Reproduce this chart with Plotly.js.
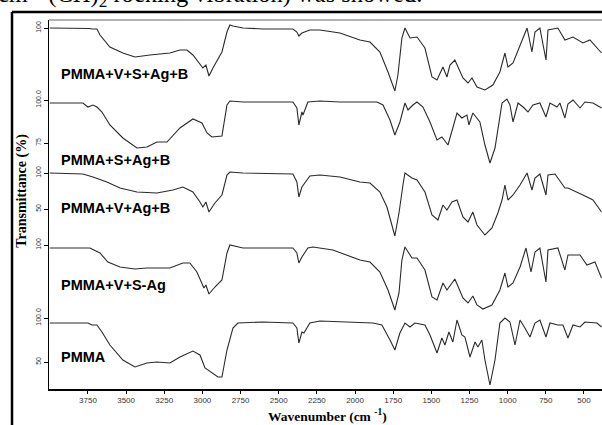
<!DOCTYPE html>
<html>
<head>
<meta charset="utf-8">
<script src="https://cdn.plot.ly/plotly-3.0.1.min.js"></script>
<style>
html,body{margin:0;padding:0;background:#fff;}
#chart{width:602px;height:425px;}
</style>
</head>
<body>
<div id="chart"></div>
<script>
// Wavenumbers (cm-1) and stacked, offset transmittance values (plot units) for each spectrum
const names = ["PMMA+V+S+Ag+B", "PMMA+S+Ag+B", "PMMA+V+Ag+B", "PMMA+V+S-Ag", "PMMA"];

const wn1 = [4000,3783,3737,3724,3691,3671,3606,3521,3442,3344,3213,3147,3101,3062,3016,2997,2977,2957,2931,2872,2839,2820,2800,2734,2603,2407,2381,2368,2348,2296,2230,2099,1968,1902,1837,1784,1739,1719,1693,1673,1640,1594,1542,1496,1463,1424,1398,1378,1346,1293,1260,1234,1201,1149,1097,1051,1018,998,965,919,873,841,821,789,749,736,671,625,572,507,461,385];
const t1  = [361,361,360.5,360,360,354,342,336,332,334,336,339,339,334,324,321,324,313,321,337,357,364,363,361,360,360,357,353,356,359,359,356,349,347,337,317,298,314,351,361,351,352,341,312,309,322,312,324,329,311,306,311,302,299,304,317,336,322,326,344,361,337,357,361,329,359,361,349,352,346,349,336];

const wn2 = [4000,3783,3750,3717,3691,3658,3606,3521,3429,3363,3298,3232,3147,3062,3003,2970,2938,2872,2839,2820,2734,2407,2381,2368,2348,2341,2309,2230,2099,1856,1817,1771,1739,1706,1673,1653,1621,1594,1555,1509,1463,1431,1391,1359,1332,1300,1267,1254,1228,1182,1149,1116,1083,1037,1005,985,965,932,899,867,834,789,749,723,677,658,625,605,572,526,494,441,385];
const t2  = [286,286,282,284,282,277,264,251,241,242,247,247,261,270,266,256,252,253,284,288,287,287,281,264,277,274,287,288,287,287,284,269,254,267,286,279,284,287,282,267,249,252,244,262,276,271,274,264,276,267,244,226,241,286,290,284,267,286,282,277,284,286,272,286,282,286,271,285,289,281,287,286,281];

const wn3 = [4000,3783,3717,3626,3540,3429,3298,3193,3128,3062,3016,2997,2977,2957,2918,2872,2839,2820,2734,2407,2381,2368,2348,2296,2230,2099,1968,1902,1837,1791,1739,1712,1686,1673,1627,1594,1542,1496,1457,1424,1398,1365,1332,1293,1260,1228,1201,1149,1103,1064,1037,1018,998,965,919,873,841,821,789,749,736,690,625,605,507,441,385];
const t3  = [216,215,212,207,201,197,196,199,202,197,187,182,187,177,186,194,214,217,216,215,207,192,202,213,214,212,207,206,197,182,153,176,204,216,211,209,197,174,169,184,179,187,189,172,167,177,164,154,161,176,189,204,189,194,204,216,199,211,215,194,214,215,201,201,194,189,177];

const wn4 = [4000,3737,3671,3619,3540,3442,3363,3213,3128,3082,3036,3003,2990,2977,2957,2918,2872,2839,2820,2734,2407,2381,2368,2348,2309,2276,2145,1968,1902,1837,1784,1739,1712,1693,1673,1627,1594,1542,1496,1463,1424,1398,1365,1346,1293,1260,1228,1201,1162,1103,1051,1018,998,965,919,880,847,821,789,749,736,671,625,605,526,481,428,385];
const t4  = [141,141,136,127,122,120,121,121,126,126,117,106,101,104,95,102,109,136,144,141,141,136,126,132,141,142,139,129,127,117,99,79,96,129,142,131,131,119,92,89,106,99,106,110,91,86,93,84,80,84,99,116,102,106,122,141,117,137,141,107,139,141,119,134,134,124,127,111];

const wn5 = [4000,3750,3724,3691,3658,3606,3521,3442,3363,3298,3213,3147,3062,3016,2983,2938,2898,2872,2839,2800,2767,2603,2407,2381,2368,2348,2335,2296,2230,1883,1824,1771,1739,1706,1673,1640,1608,1542,1509,1463,1431,1411,1385,1359,1332,1300,1280,1247,1214,1195,1169,1149,1116,1083,1051,1018,985,952,919,887,854,821,789,749,723,671,638,605,572,526,494,415,385];
const t5  = [66,66,64,64,57,44,29,22,26,27,26,32,38,34,21,16,12,12,39,61,66,67,66,61,46,57,56,66,68,66,64,49,39,56,66,62,66,64,54,36,51,44,57,47,69,54,52,32,47,42,49,29,4,29,66,71,67,44,69,61,52,66,69,52,66,64,64,51,64,62,67,66,62];

const xTicks = [3750,3500,3250,3000,2750,2500,2250,2000,1750,1500,1250,1000,750,500];
const yTickVals = [361,289,246,216,180,144,71,27];
const yTickText = ["100","100.0","75","100","50","100","100.0","50"];

const labelY = [315,229,181,104,32];

const series = [[wn1,t1],[wn2,t2],[wn3,t3],[wn4,t4],[wn5,t5]];
const traces = series.map((s,i)=>({
  x: s[0], y: s[1], type:'scatter', mode:'lines', name: names[i],
  line:{color:'#2a2a2a', width:1.1}, showlegend:false, hoverinfo:'skip'
}));

const annotations = names.map((n,i)=>({
  x: 3940, y: labelY[i], xref:'x', yref:'y', text: '<b>'+n+'</b>',
  showarrow:false, xanchor:'left', yanchor:'middle',
  font:{family:'Liberation Sans, Arial, sans-serif', size:14.5, color:'#000'}
}));
annotations.push({
  x:-0.0488, y:0.537, xref:'paper', yref:'paper', text:'<b>Transmittance (%)</b>',
  textangle:-90, showarrow:false, xanchor:'center', yanchor:'middle',
  font:{family:'Liberation Serif, Times New Roman, serif', size:14, color:'#000'}
});
annotations.push({
  x:0.503, y:-0.0705, xref:'paper', yref:'paper', text:'<b>Wavenumber (cm <sup>-1</sup>)</b>',
  showarrow:false, xanchor:'center', yanchor:'middle',
  font:{family:'Liberation Serif, Times New Roman, serif', size:13.5, color:'#000'}
});
annotations.push({
  x:-0.096, y:1.018, xref:'paper', yref:'paper',
  text:'cm<sup>-1</sup> (CH)<sub>2</sub> rocking vibration) was showed.',
  showarrow:false, xanchor:'left', yanchor:'bottom',
  font:{family:'Liberation Serif, Times New Roman, serif', size:24.5, color:'#000'}
});

const layout = {
  width:602, height:425,
  margin:{l:49, r:0, t:20, b:36, pad:0},
  paper_bgcolor:'#fff', plot_bgcolor:'#fff',
  showlegend:false,
  xaxis:{
    range:[4005,382], tickvals:xTicks, ticktext:xTicks.map(String),
    ticks:'outside', ticklen:3, tickcolor:'#000', tickwidth:1,
    showline:true, linecolor:'#000', linewidth:1.5,
    showgrid:false, zeroline:false,
    tickfont:{family:'Liberation Sans, Arial, sans-serif', size:8, color:'#333'}
  },
  yaxis:{
    range:[0,369], tickvals:yTickVals, ticktext:yTickText,
    ticks:'outside', ticklen:4, tickcolor:'#000', tickwidth:1,
    tickangle:-90,
    showline:true, linecolor:'#000', linewidth:1.5,
    showgrid:false, zeroline:false,
    tickfont:{family:'Liberation Sans, Arial, sans-serif', size:7, color:'#333'}
  },
  shapes:[
    {type:'line', xref:'paper', yref:'paper', x0:0, x1:1, y0:1, y1:1, line:{color:'#999', width:1.5}},
    {type:'line', xref:'paper', yref:'paper', x0:-0.0669, x1:1.05, y0:1.0217, y1:1.0217, line:{color:'#000', width:2.5}},
    {type:'line', xref:'paper', yref:'paper', x0:-0.0669, x1:-0.0669, y0:1.0217, y1:-0.2, line:{color:'#000', width:2.5}}
  ],
  annotations: annotations
};

Plotly.newPlot('chart', traces, layout, {displayModeBar:false, staticPlot:true});
</script>
</body>
</html>
